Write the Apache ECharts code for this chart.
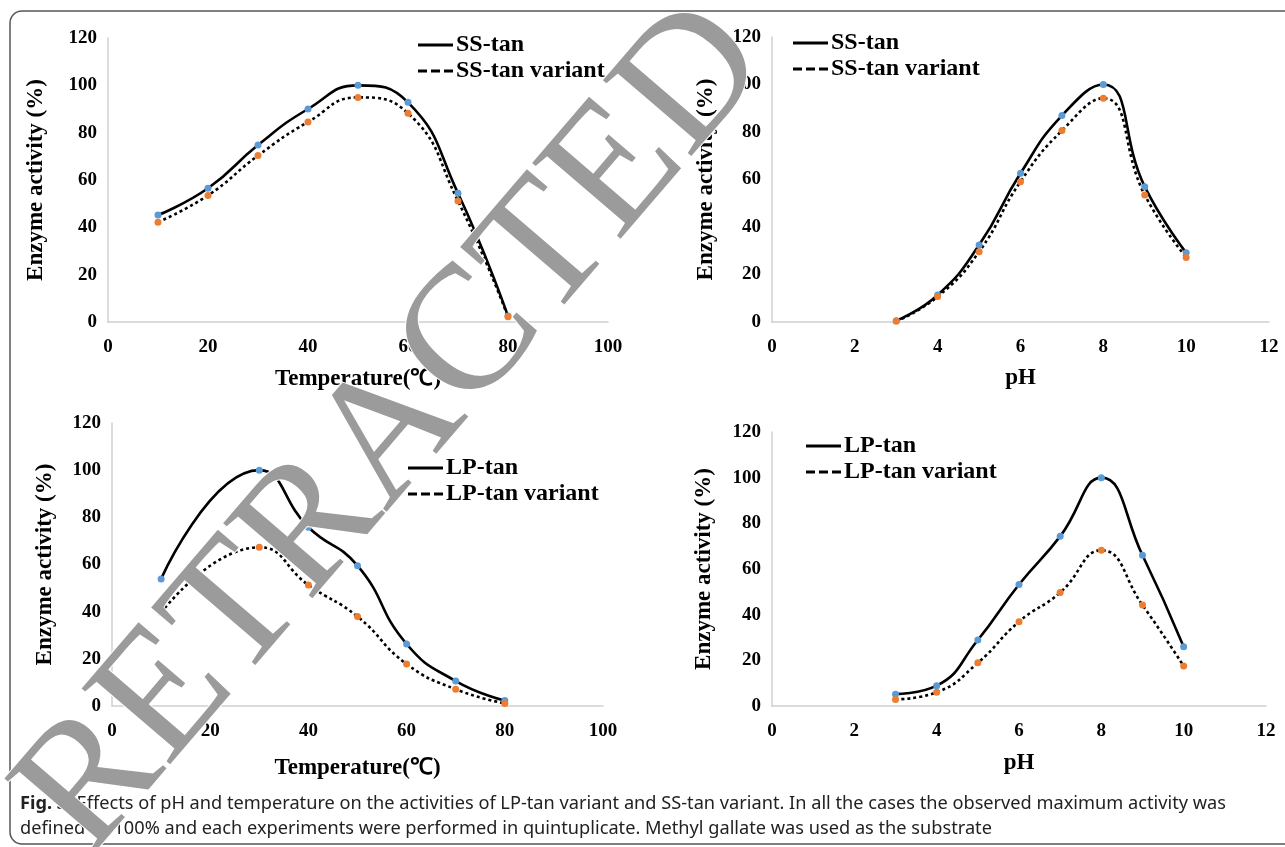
<!DOCTYPE html>
<html>
<head>
<meta charset="utf-8">
<script src="https://cdn.jsdelivr.net/npm/echarts@6/dist/echarts.min.js"></script>
<style>
  html, body { margin: 0; padding: 0; background: #fff; }
  #main { width: 1285px; height: 847px; }
</style>
</head>
<body>
<div id="main"></div>
<script>
// temperature profile, SS-tan
var tempSS = [10, 20, 30, 40, 50, 60, 70, 80];
var ssTempWT = [45.2, 56.5, 74.8, 90, 100, 92.8, 54.4, 2.5];
var ssTempVar = [42.2, 53.5, 70.3, 84.5, 94.9, 88.2, 51.1, 2.2];
// pH profile, SS-tan
var phX = [3, 4, 5, 6, 7, 8, 9, 10];
var ssPhWT = [0.5, 11.4, 32.4, 62.6, 86.9, 100, 57, 29.2];
var ssPhVar = [0.3, 10.7, 29.6, 59.1, 80.6, 94.2, 53.5, 27.2];
// temperature profile, LP-tan (no 20 degree point)
var tempLP = [10, 30, 40, 50, 60, 70, 80];
var lpTempWT = [53.9, 100, 75.8, 59.5, 26.3, 10.6, 2.3];
var lpTempVar = [39.6, 67.3, 51.3, 37.9, 17.8, 7.1, 1.1];
// pH profile, LP-tan
var lpPhWT = [5.2, 8.9, 28.9, 53.2, 74.3, 100, 66, 25.9];
var lpPhVar = [2.9, 6.0, 18.9, 36.9, 49.7, 68.2, 44.2, 17.5];

var yTicks = [0, 20, 40, 60, 80, 100, 120];
var tempTicks = [0, 20, 40, 60, 80, 100];
var phTicks = [0, 2, 4, 6, 8, 10, 12];

var serif = '"Liberation Serif", "Times New Roman", serif';
var sans = '"Noto Sans", Roboto, sans-serif';
var solidIcon = 'path://M0,0H35V3H0Z';
var dashIcon = 'path://M0,0H9V3H0Z M13,0H22V3H13Z M26,0H35V3H26Z';

function pairs(xs, ys) {
    var out = [];
    for (var i = 0; i < xs.length; i++) out.push([xs[i], ys[i]]);
    return out;
}

function xAxisFor(idx, ticks, name, gap) {
    return {
        gridIndex: idx,
        type: 'value',
        min: ticks[0],
        max: ticks[ticks.length - 1],
        interval: ticks[1] - ticks[0],
        name: name,
        nameLocation: 'middle',
        nameGap: gap,
        nameTextStyle: { fontFamily: serif, fontWeight: 'bold', fontSize: 23, color: '#000' },
        axisLine: { show: true, lineStyle: { color: '#d0d0d0', width: 1.5 } },
        axisTick: { show: false },
        splitLine: { show: false },
        axisLabel: { margin: 16, fontFamily: serif, fontWeight: 'bold', fontSize: 19, color: '#000' }
    };
}

function yAxisFor(idx, gap) {
    return {
        gridIndex: idx,
        type: 'value',
        min: yTicks[0],
        max: yTicks[yTicks.length - 1],
        interval: yTicks[1] - yTicks[0],
        name: 'Enzyme activity (%)',
        nameLocation: 'middle',
        nameGap: gap,
        nameTextStyle: { fontFamily: serif, fontWeight: 'bold', fontSize: 23, color: '#000' },
        axisLine: { show: true, lineStyle: { color: '#d0d0d0', width: 1.5 } },
        axisTick: { show: false },
        splitLine: { show: false },
        axisLabel: { margin: 11, fontFamily: serif, fontWeight: 'bold', fontSize: 19, color: '#000' }
    };
}

function lineSeries(name, idx, xs, ys, dotColor, dashed) {
    return {
        name: name,
        type: 'line',
        xAxisIndex: idx,
        yAxisIndex: idx,
        data: pairs(xs, ys),
        smooth: 0.5,
        symbol: 'circle',
        symbolSize: 7,
        showSymbol: true,
        itemStyle: { color: dotColor },
        lineStyle: { color: '#000', width: 2.6, type: dashed ? [3, 3] : 'solid' },
        emphasis: { disabled: true }
    };
}

function legendFor(names, left, top) {
    return {
        orient: 'vertical',
        left: left,
        top: top,
        padding: 0,
        itemGap: 2,
        itemWidth: 35,
        itemHeight: 3,
        selectedMode: false,
        textStyle: { fontFamily: serif, fontWeight: 'bold', fontSize: 24, color: '#000', padding: [0, 0, 0, -2] },
        data: [
            { name: names[0], icon: solidIcon, itemStyle: { color: '#000' } },
            { name: names[1], icon: dashIcon, itemStyle: { color: '#000' } }
        ]
    };
}

var blue = '#5b9bd5';
var orange = '#ed7d31';

var dom = document.getElementById('main');
var myChart = echarts.init(dom, null, { renderer: 'canvas' });
var option = {
    animation: false,
    backgroundColor: '#fff',
    grid: [
        { left: 108, right: 677, top: 38, bottom: 525 },
        { left: 772, right: 16, top: 37, bottom: 525 },
        { left: 112, right: 682, top: 423, bottom: 141 },
        { left: 772, right: 19, top: 432, bottom: 141 }
    ],
    xAxis: [
        xAxisFor(0, tempTicks, 'Temperature(℃)', 46),
        xAxisFor(1, phTicks, 'pH', 45),
        xAxisFor(2, tempTicks, 'Temperature(℃)', 51),
        xAxisFor(3, phTicks, 'pH', 46)
    ],
    yAxis: [
        yAxisFor(0, 60),
        yAxisFor(1, 54),
        yAxisFor(2, 55),
        yAxisFor(3, 56)
    ],
    legend: [
        legendFor(['SS-tan', 'SS-tan variant'], 418, 33),
        legendFor(['SS-tan', 'SS-tan variant'], 793, 31),
        legendFor(['LP-tan', 'LP-tan variant'], 408, 456),
        legendFor(['LP-tan', 'LP-tan variant'], 806, 434)
    ],
    series: [
        lineSeries('SS-tan', 0, tempSS, ssTempWT, blue, false),
        lineSeries('SS-tan variant', 0, tempSS, ssTempVar, orange, true),
        lineSeries('SS-tan', 1, phX, ssPhWT, blue, false),
        lineSeries('SS-tan variant', 1, phX, ssPhVar, orange, true),
        lineSeries('LP-tan', 2, tempLP, lpTempWT, blue, false),
        lineSeries('LP-tan variant', 2, tempLP, lpTempVar, orange, true),
        lineSeries('LP-tan', 3, phX, lpPhWT, blue, false),
        lineSeries('LP-tan variant', 3, phX, lpPhVar, orange, true)
    ],
    graphic: [
        {
            type: 'rect',
            shape: { x: 10, y: 11, width: 1300, height: 833, r: 12 },
            style: { fill: 'none', stroke: '#555', lineWidth: 1.5 },
            z: 1
        },
        {
            type: 'text',
            left: 20,
            top: 795,
            style: {
                text: '{b|Fig. 3}  Effects of pH and temperature on the activities of LP-tan variant and SS-tan variant. In all the cases the observed maximum activity was',
                fontFamily: sans,
                fontSize: 18.2,
                fill: '#222',
                rich: { b: { fontFamily: sans, fontWeight: 'bold', fontSize: 18.2, fill: '#222' } }
            }
        },
        {
            type: 'text',
            left: 20,
            top: 820,
            style: {
                text: 'defined as 100% and each experiments were performed in quintuplicate. Methyl gallate was used as the substrate',
                fontFamily: sans,
                fontSize: 18.2,
                fill: '#222'
            }
        },
        {
            // retraction watermark over the whole figure
            type: 'text',
            x: 395,
            y: 430,
            rotation: 49.4 * Math.PI / 180,
            z: 100,
            style: {
                text: 'RETRACTED',
                fontFamily: serif,
                fontSize: 178,
                fill: '#9b9b9b',
                stroke: '#fff',
                lineWidth: 2,
                align: 'center',
                verticalAlign: 'middle'
            }
        }
    ]
};
myChart.setOption(option, true);
window.onresize = myChart.resize;
</script>
</body>
</html>
